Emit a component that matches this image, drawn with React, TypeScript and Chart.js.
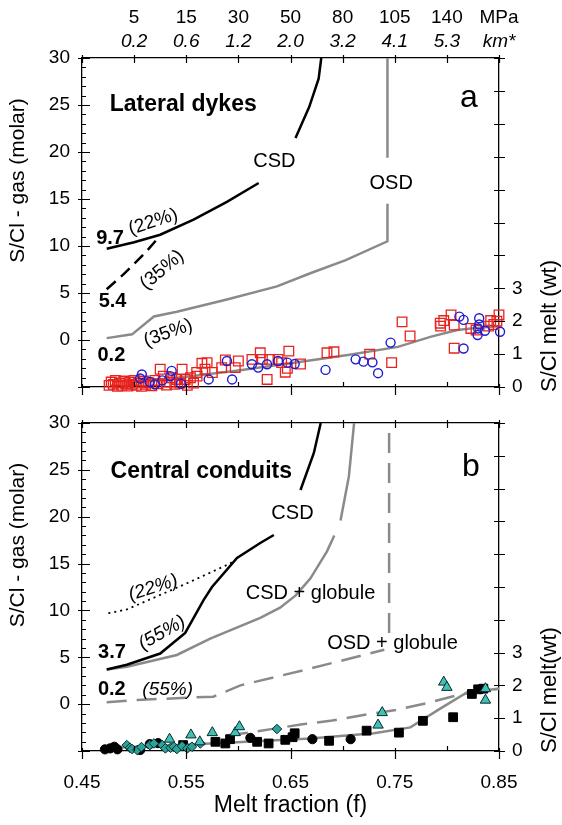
import React, { useEffect, useRef } from 'react';
import { Chart, registerables } from 'chart.js';
Chart.register(...registerables);

const FONT = '"Liberation Sans", Arial, Helvetica, sans-serif';

// ---- axes ----
const xTicks = [0.45, 0.5, 0.55, 0.6, 0.65, 0.7, 0.75, 0.8, 0.85];
const xLabelTicks = [0.45, 0.55, 0.65, 0.75, 0.85];
const pressurePos = [0.5, 0.55, 0.6, 0.65, 0.7, 0.75, 0.8, 0.85];
const pressureMPa = ['5', '15', '30', '50', '80', '105', '140', 'MPa'];
const depthKm = ['0.2', '0.6', '1.2', '2.0', '3.2', '4.1', '5.3', 'km*'];
const gasTicks = [-5, 0, 5, 10, 15, 20, 25, 30];
const meltTicks = [0, 1, 2, 3, 4, 5, 6, 7, 8, 9, 10];

// ---- panel a : lateral dykes (gas, left axis) ----
const csdA22 = [[0.4737, 9.7], [0.5, 10.4], [0.525, 11.2], [0.557, 12.8], [0.589, 14.7], [0.6195, 16.7], [0.635, null], [0.6548, 21.5], [0.668, 24.8], [0.677, 27.8], [0.6795, 30]];
const csdA35 = [[0.4737, 5.4], [0.49, 7.0], [0.51, 9.2], [0.525, 11.1]];
const osdA35 = [[0.4737, 0.2], [0.498, 0.6], [0.519, 2.5], [0.541, 3.0], [0.589, 4.3], [0.637, 5.7], [0.669, 7.1], [0.703, 8.5], [0.743, 10.5], [0.743, 14.5], [0.743, null], [0.743, 19.4], [0.743, 30]];
// melt model (right axis)
const meltA = [[0.5, 0.15], [0.55, 0.31], [0.6, 0.5], [0.66, 0.77], [0.705, 0.97], [0.753, 1.22], [0.785, 1.53], [0.81, 1.73], [0.83, 1.8], [0.85, 1.85]];
// melt inclusions (right axis)
const redSquaresA = [
  [0.476, 0.05], [0.478, 0.15], [0.48, 0.08], [0.482, 0.2], [0.484, 0.02], [0.486, 0.12], [0.488, 0.05], [0.49, 0.18],
  [0.492, 0.1], [0.494, 0.03], [0.496, 0.15], [0.498, 0.08], [0.5, 0.2], [0.502, 0.05], [0.504, 0.12], [0.507, 0.02],
  [0.509, 0.18], [0.511, 0.08], [0.514, 0.13], [0.517, 0.04], [0.52, 0.2], [0.523, 0.1], [0.525, 0.54], [0.528, 0.33],
  [0.531, 0.06], [0.534, 0.15], [0.536, 0.28], [0.539, 0.08], [0.541, 0.23], [0.544, 0.12], [0.546, 0.54], [0.549, 0.23],
  [0.551, 0.05], [0.554, 0.28], [0.557, 0.12], [0.56, 0.44], [0.5604, 0.33], [0.565, 0.72], [0.568, 0.54], [0.57, 0.74],
  [0.575, 0.44], [0.584, 0.59], [0.5875, 0.82], [0.597, 0.59], [0.6, 0.79], [0.613, 0.84], [0.621, 1.04], [0.623, 0.84],
  [0.6276, 0.23], [0.63, 0.84], [0.638, 0.84], [0.6415, 0.74], [0.6484, 1.09], [0.645, 0.45], [0.647, 0.57], [0.6596, 0.7],
  [0.685, 1.04], [0.6917, 1.07], [0.726, 1.0], [0.747, 0.74], [0.757, 1.98], [0.7647, 1.55], [0.7936, 1.94], [0.797, 2.02],
  [0.804, 2.19], [0.807, 1.88], [0.794, 1.85], [0.807, 1.18], [0.823, 1.78], [0.828, 1.73], [0.842, 2.02], [0.845, 1.9],
  [0.85, 2.19], [0.848, 2.0], [0.84, 1.85],
];
const blueCirclesA = [
  [0.5058, 0.26], [0.5074, 0.38], [0.515, 0.15], [0.52, 0.08], [0.527, 0.2], [0.5346, 0.33], [0.536, 0.49], [0.545, 0.1],
  [0.5715, 0.23], [0.589, 0.79], [0.594, 0.23], [0.613, 0.69], [0.619, 0.59], [0.6275, 0.69], [0.638, 0.79], [0.647, 0.74],
  [0.654, 0.7], [0.6836, 0.52], [0.7125, 0.84], [0.72, 0.77], [0.7286, 0.75], [0.734, 0.42], [0.746, 1.35], [0.812, 2.14],
  [0.816, 2.04], [0.816, 1.17], [0.8295, 1.58], [0.831, 2.09], [0.831, 1.9], [0.8365, 1.71], [0.851, 1.68], [0.83, 1.78],
];

// ---- panel b : central conduits ----
const csdB55 = [[0.4737, 3.7], [0.493, 4.2], [0.525, 5.4], [0.549, 7.6], [0.5666, 11.1], [0.5747, 12.5], [0.5987, 15.6], [0.621, 17.2], [0.634, 18.05], [0.645, null], [0.6596, 22.85], [0.6724, 26.8], [0.679, 30]];
const csdB22 = [[0.4753, 9.7], [0.493, 10.1], [0.5507, 12.9], [0.592, 15.0], [0.598, 15.5]];
const csdGlobB = [[0.4737, 3.7], [0.493, 4.0], [0.541, 5.25], [0.573, 7.0], [0.621, 9.2], [0.64, 10.3], [0.655, 11.6], [0.669, 13.4], [0.685, 16.3], [0.692, 18.0], [0.695, null], [0.698, 19.6], [0.706, 24.3], [0.711, 30]];
const osdGlobB = [[0.4737, 0.2], [0.503, 0.45], [0.576, 0.8], [0.602, 2.0], [0.669, 3.8], [0.74, 5.8], [0.742, null], [0.7446, 7.6], [0.7446, 30]];
const meltB = [[0.48, 0.1], [0.53, 0.17], [0.589, 0.25], [0.669, 0.38], [0.73, 0.54], [0.765, 0.72], [0.794, 1.3], [0.82, 1.8], [0.85, 1.9]];
const meltGlobB = [[0.59, 0.48], [0.61, 0.56], [0.636, 0.69], [0.663, 0.82], [0.69, 0.93], [0.72, 1.1], [0.751, 1.25], [0.78, 1.45], [0.81, 1.7], [0.835, 1.84], [0.85, 1.9]];
const blackCirclesB = [[0.472, 0.05], [0.477, 0.08], [0.481, 0.13], [0.484, 0.05], [0.5058, 0.03], [0.515, 0.21], [0.523, 0.24], [0.6115, 0.4], [0.671, 0.36], [0.7077, 0.36]];
const blackSquaresB = [[0.547, 0.18], [0.578, 0.28], [0.5875, 0.23], [0.592, 0.36], [0.618, 0.28], [0.629, 0.23], [0.645, 0.34], [0.652, 0.42], [0.654, 0.54], [0.687, 0.31], [0.723, 0.62], [0.754, 0.56], [0.777, 0.92], [0.806, 1.03], [0.824, 1.74], [0.83, 1.88], [0.835, 1.9]];
const trianglesB = [[0.534, 0.36], [0.5545, 0.49], [0.563, 0.28], [0.575, 0.56], [0.597, 0.56], [0.601, 0.74], [0.734, 0.79], [0.738, 1.17], [0.797, 2.1], [0.8, 1.94], [0.837, 1.9], [0.837, 1.55]];
const diamondsB = [[0.493, 0.18], [0.496, 0.1], [0.498, 0.06], [0.503, 0.03], [0.507, 0.12], [0.515, 0.18], [0.519, 0.23], [0.527, 0.18], [0.53, 0.08], [0.535, 0.1], [0.538, 0.13], [0.541, 0.06], [0.546, 0.15], [0.551, 0.08], [0.5555, 0.13], [0.5635, 0.23], [0.637, 0.67]];

const GRAY = '#8a8a8a';

type Ann = { t: string; x: number; y: number; size: number; bold?: boolean; italic?: boolean; rot?: number };

const annA: Ann[] = [
  { t: 'Lateral dykes', x: 0.5471, y: 25.0, size: 23, bold: true },
  { t: 'a', x: 0.8212, y: 25.7, size: 32 },
  { t: 'CSD', x: 0.6346, y: 19.0, size: 20 },
  { t: 'OSD', x: 0.7466, y: 16.7, size: 20 },
  { t: '9.7', x: 0.4769, y: 10.85, size: 20, bold: true },
  { t: '(22%)', x: 0.5183, y: 12.55, size: 19, rot: -18 },
  { t: '5.4', x: 0.4793, y: 4.07, size: 20, bold: true },
  { t: '(35%)', x: 0.5269, y: 7.45, size: 19, rot: -40 },
  { t: '0.2', x: 0.4782, y: -1.7, size: 20, bold: true },
  { t: '(35%)', x: 0.5327, y: 0.74, size: 19, rot: -20 },
];
const annB: Ann[] = [
  { t: 'Central conduits', x: 0.5644, y: 24.8, size: 23, bold: true },
  { t: 'b', x: 0.823, y: 25.3, size: 32 },
  { t: 'CSD', x: 0.6519, y: 20.3, size: 20 },
  { t: 'CSD + globule', x: 0.6692, y: 11.76, size: 20 },
  { t: '(22%)', x: 0.5183, y: 12.4, size: 19, rot: -18, italic: true },
  { t: '3.7', x: 0.4788, y: 5.49, size: 20, bold: true },
  { t: '(55%)', x: 0.5269, y: 7.6, size: 19, rot: -30, italic: true },
  { t: '0.2', x: 0.4786, y: 1.58, size: 20, bold: true },
  { t: '(55%)', x: 0.5322, y: 1.51, size: 19, italic: true },
  { t: 'OSD + globule', x: 0.7478, y: 6.49, size: 20 },
];

function drawText(ctx: CanvasRenderingContext2D, s: string, x: number, y: number, size: number, o: { bold?: boolean; italic?: boolean; rot?: number } = {}) {
  ctx.save();
  ctx.translate(x, y);
  if (o.rot) ctx.rotate((o.rot * Math.PI) / 180);
  ctx.font = `${o.italic ? 'italic ' : ''}${o.bold ? 'bold ' : ''}${size}px ${FONT}`;
  ctx.fillStyle = '#000';
  ctx.textAlign = 'center';
  ctx.textBaseline = 'middle';
  ctx.fillText(s, 0, 0);
  ctx.restore();
}

const decorPlugin = {
  id: 'decor',
  afterDraw(chart: any, _args: any, opts: any) {
    const { ctx, chartArea: ca, scales } = chart;
    const isA = opts.panel === 'a';
    const xs = scales.x, ys = scales.y, y2 = scales.y2;
    ctx.save();
    ctx.strokeStyle = '#000';
    ctx.lineWidth = 1.2;
    ctx.beginPath();
    // left axis ticks
    for (let v = -5; v <= 30; v++) {
      const py = Math.round(ys.getPixelForValue(v)) + 0.5;
      const major = v % 5 === 0;
      ctx.moveTo(ca.left - (major ? 4 : 0), py);
      ctx.lineTo(ca.left + (major ? 8 : 4), py);
    }
    // right axis ticks
    meltTicks.forEach((v) => {
      const py = Math.round(y2.getPixelForValue(v)) + 0.5;
      ctx.moveTo(ca.right - 5, py);
      ctx.lineTo(ca.right + 6, py);
    });
    // top / bottom ticks
    xTicks.forEach((v, i) => {
      const px = Math.round(xs.getPixelForValue(v)) + 0.5;
      ctx.moveTo(px, ca.top - 3);
      ctx.lineTo(px, ca.top + 5);
      const major = i % 2 === 0;
      ctx.moveTo(px, ca.bottom + (major ? 8 : 0));
      ctx.lineTo(px, ca.bottom - (major ? 3 : 5));
    });
    ctx.stroke();
    ctx.restore();

    // top pressure / depth labels
    if (isA) {
      pressurePos.forEach((v, i) => {
        const px = xs.getPixelForValue(v);
        drawText(ctx, pressureMPa[i], px, 18, 19);
        drawText(ctx, depthKm[i], px, 42, 19, { italic: true });
      });
    }
    // annotations
    (isA ? annA : annB).forEach((a) => {
      drawText(ctx, a.t, xs.getPixelForValue(a.x), ys.getPixelForValue(a.y), a.size, { bold: a.bold, italic: a.italic, rot: a.rot });
    });
    // axis titles
    const midL = (ca.top + ca.bottom) / 2 - 42;
    drawText(ctx, 'S/Cl - gas (molar)', 18, midL, 21, { rot: -90 });
    const midR = ys.getPixelForValue(-5) - 61;
    drawText(ctx, isA ? 'S/Cl melt (wt)' : 'S/Cl melt(wt)', 550, midR, 22, { rot: -90 });
    if (!isA) drawText(ctx, 'Melt fraction (f)', (ca.left + ca.right) / 2, ca.bottom + 55, 23);
  },
};

function lineDs(data: any[], color: string, yAxisID: string, dash: number[] = [], width = 2.5) {
  return {
    type: 'scatter', data, showLine: true, borderColor: color, borderWidth: width, borderDash: dash,
    pointRadius: 0, spanGaps: false, yAxisID, order: 2, fill: false, tension: 0,
  };
}
function pointDs(data: any[], style: string, radius: number, bg: string, border: string, bw = 1.3) {
  return {
    type: 'scatter', data, showLine: false, pointStyle: style, pointRadius: radius, backgroundColor: bg,
    borderColor: border, pointBorderWidth: bw, borderWidth: bw, yAxisID: 'y2', order: 1, clip: 10,
  };
}

function buildConfig(panel: 'a' | 'b'): any {
  const isA = panel === 'a';
  const datasets = isA
    ? [
        pointDs(blueCirclesA, 'circle', 4.5, 'rgba(0,0,0,0)', '#1c1cd0', 1.4),
        pointDs(redSquaresA, 'rect', 6.8, 'rgba(0,0,0,0)', '#e8231f', 1.3),
        lineDs(meltA, GRAY, 'y2'),
        lineDs(csdA22, '#000', 'y'),
        lineDs(csdA35, '#000', 'y', [12, 7]),
        lineDs(osdA35, GRAY, 'y'),
      ]
    : [
        pointDs(trianglesB, 'triangle', 6, '#3fc1b8', '#0a2a2a', 1),
        pointDs(diamondsB, 'rectRot', 4.8, '#2aa39a', '#0a2a2a', 1),
        pointDs(blackSquaresB, 'rect', 6.2, '#000', '#000', 1),
        pointDs(blackCirclesB, 'circle', 4.6, '#000', '#000', 1),
        lineDs(meltB, GRAY, 'y2'),
        lineDs(meltGlobB, GRAY, 'y2', [20, 10]),
        lineDs(csdB55, '#000', 'y'),
        lineDs(csdB22, '#000', 'y', [2, 4], 1.8),
        lineDs(csdGlobB, GRAY, 'y'),
        lineDs(osdGlobB, GRAY, 'y', [20, 10]),
      ];
  const border = { display: true, color: '#000', width: 1.3 };
  const grid = { display: false, drawTicks: false };
  const tickFont = { family: FONT, size: 19 };
  const noPad = (s: any) => { s.paddingTop = 0; s.paddingBottom = 0; };
  return {
    type: 'scatter',
    data: { datasets },
    options: {
      responsive: false,
      maintainAspectRatio: false,
      animation: false,
      events: [],
      layout: { padding: 0 },
      plugins: { legend: { display: false }, tooltip: { enabled: false }, decor: { panel } },
      scales: {
        x: {
          type: 'linear', position: 'bottom', min: 0.45, max: 0.85,
          afterBuildTicks: (s: any) => { s.ticks = xTicks.map((v) => ({ value: v })); },
          afterFit: (s: any) => { s.height = isA ? 13 : 74; s.paddingLeft = 0; s.paddingRight = 0; },
          grid, border,
          ticks: {
            display: !isA, autoSkip: false, maxRotation: 0, minRotation: 0, padding: 20, color: '#000', font: tickFont,
            callback: (v: number) => (xLabelTicks.some((t) => Math.abs(t - v) < 1e-6) ? Number(v).toFixed(2) : ''),
          },
        },
        xTop: {
          type: 'linear', axis: 'x', position: 'top', min: 0.45, max: 0.85,
          afterBuildTicks: (s: any) => { s.ticks = xTicks.map((v) => ({ value: v })); },
          afterFit: (s: any) => { s.height = isA ? 58 : 23; },
          grid, border, ticks: { display: false },
        },
        y: {
          type: 'linear', position: 'left', min: -5, max: 30,
          afterBuildTicks: (s: any) => { s.ticks = gasTicks.map((v) => ({ value: v })); },
          afterFit: (s: any) => { s.width = 82; noPad(s); },
          grid, border,
          ticks: { autoSkip: false, padding: 12, color: '#000', font: tickFont, callback: (v: number) => (v >= 0 ? String(v) : '') },
        },
        y2: {
          type: 'linear', position: 'right', min: 0, max: 10,
          afterBuildTicks: (s: any) => { s.ticks = meltTicks.map((v) => ({ value: v })); },
          afterFit: (s: any) => { s.width = 63; noPad(s); },
          grid, border,
          ticks: { autoSkip: false, padding: 13, color: '#000', font: tickFont, callback: (v: number) => (v <= 3 ? String(v) : '') },
        },
      },
    },
    plugins: [decorPlugin],
  };
}

function Panel({ panel, top, height }: { panel: 'a' | 'b'; top: number; height: number }) {
  const ref = useRef<HTMLCanvasElement>(null);
  useEffect(() => {
    const chart = new Chart(ref.current as HTMLCanvasElement, buildConfig(panel));
    return () => chart.destroy();
  }, [panel]);
  return (
    <canvas
      ref={ref}
      width={562}
      height={height}
      style={{ position: 'absolute', left: 0, top, width: 562, height, display: 'block' }}
    />
  );
}

export default function App() {
  return (
    <div style={{ position: 'absolute', left: 0, top: 0, width: 562, height: 825, background: '#fff' }}>
      <Panel panel="a" top={0} height={400} />
      <Panel panel="b" top={400} height={425} />
    </div>
  );
}
